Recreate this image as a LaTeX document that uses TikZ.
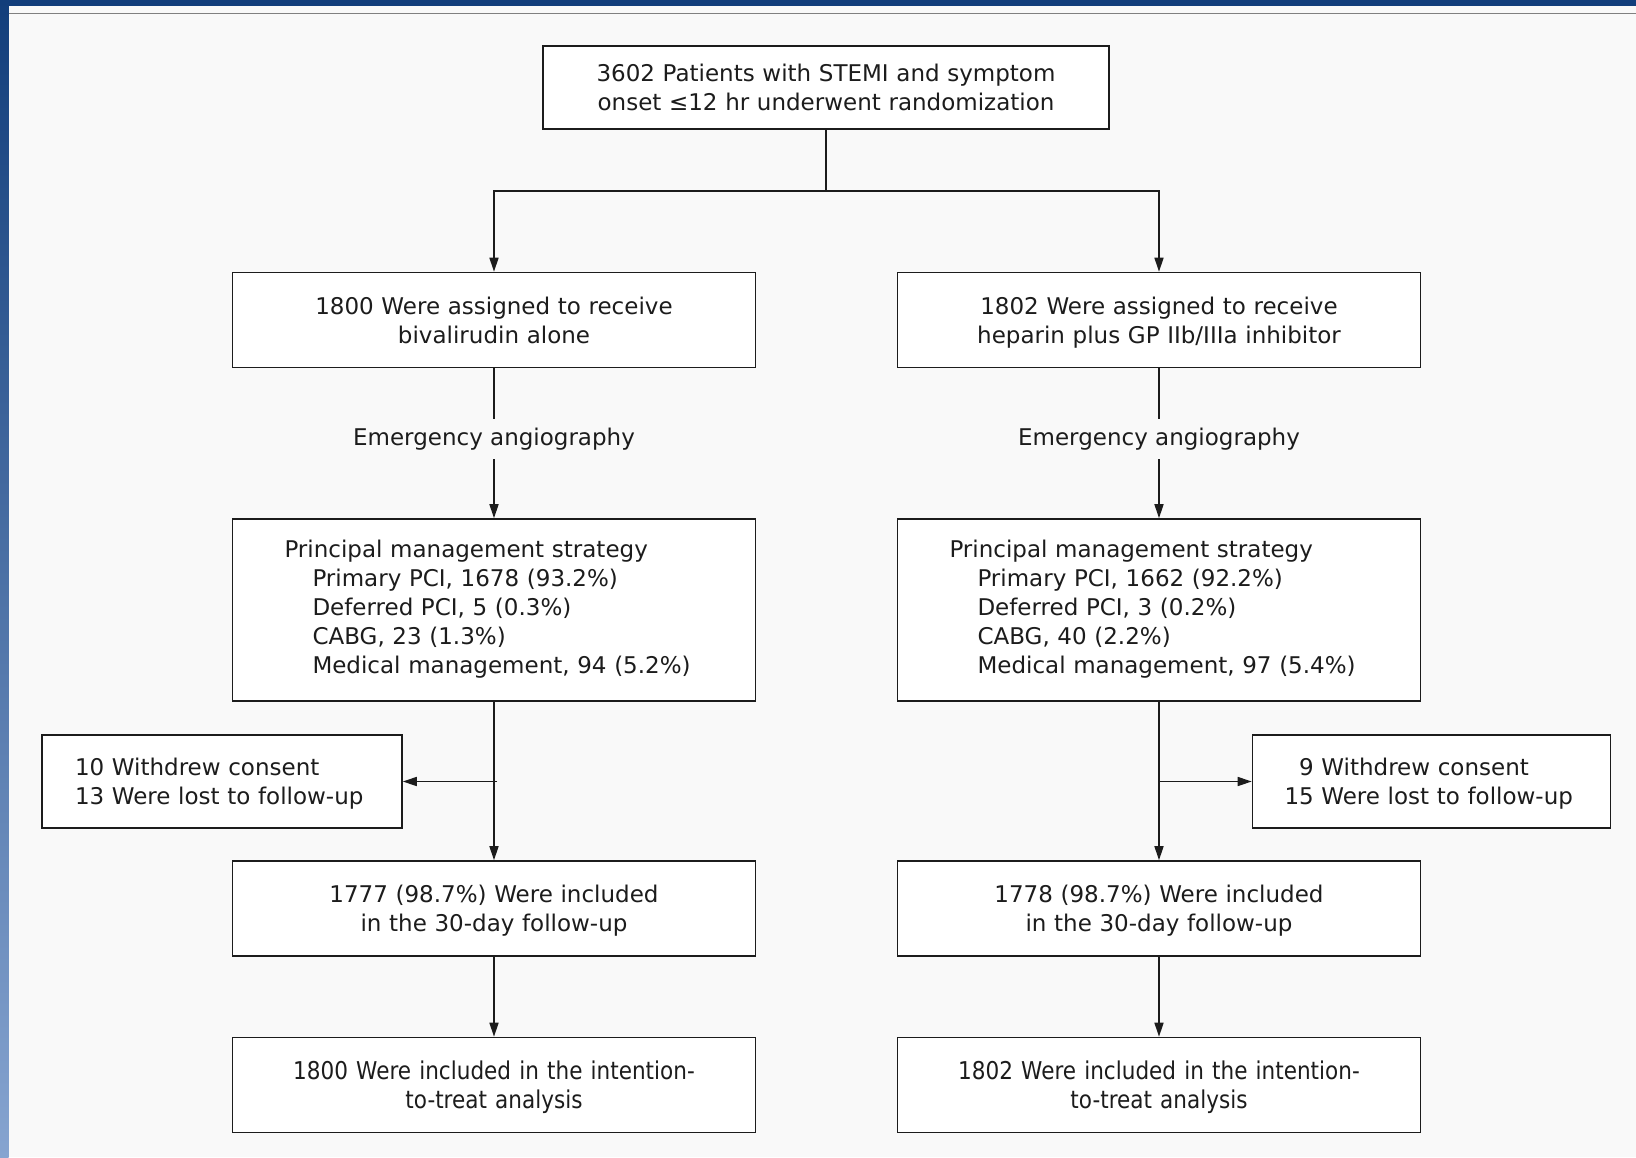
\documentclass[tikz,border=0pt]{standalone}
\usepackage{fontspec}
\setmainfont{DejaVu Sans}
\newfontfamily\narrowfont[FakeStretch=0.88]{DejaVu Sans}
\usetikzlibrary{arrows.meta}
\definecolor{pagebg}{HTML}{F9F9F9}
\definecolor{bandtop}{HTML}{123E7B}
\definecolor{bandbot}{HTML}{86A4D0}
\definecolor{rulegray}{HTML}{808080}
\definecolor{ink}{HTML}{1C1C1C}

\begin{document}
\begin{tikzpicture}[x=1pt, y=-1pt,
    basebox/.style={draw=ink, line width=1.6pt, fill=white, text=ink, inner sep=0pt,
      font=\fontsize{23}{29}\selectfont, execute at end node=\strut},
    box/.style={basebox, align=center, text width=500pt, minimum width=523pt, minimum height=95pt,
      execute at begin node=\rule{0pt}{26.5pt}},
    listbox/.style={basebox, align=left, text width=419pt, inner xsep=52pt, minimum height=182pt,
      execute at begin node=\strut},
    sidebox/.style={basebox, align=left, text width=294pt, inner xsep=33pt, minimum width=360pt,
      minimum height=93pt, execute at begin node=\rule{0pt}{25pt}},
    endbox/.style={box, font=\narrowfont\fontsize{24.5}{29}\selectfont},
    stagelabel/.style={text=ink, inner xsep=4pt, inner ysep=9pt, font=\fontsize{23}{29}\selectfont},
    wire/.style={draw=ink, line width=1.6pt},
    arr/.style={wire, -{Triangle[length=14pt,width=9pt]}}]
  \useasboundingbox (0,0) rectangle (1636,1157);
  \fill[pagebg] (0,0) rectangle (1636,1157);
  \fill[bandtop] (0,0) rectangle (1636,6);
  \shade[top color=bandtop, bottom color=bandbot] (0,0) rectangle (8.5,1157);
  \draw[rulegray, line width=1.5pt] (8.5,13.5) -- (1636,13.5);

  \node[box, minimum width=566pt, minimum height=83pt] (top) at (826,87.5)
    {3602 Patients with STEMI and symptom\\onset ≤12 hr underwent randomization};

  \node[box] (L1) at (494,320) {1800 Were assigned to receive\\bivalirudin alone};
  \node[box] (R1) at (1159,320) {1802 Were assigned to receive\\heparin plus GP IIb/IIIa inhibitor};

  \node[stagelabel] (eaL) at (494,439) {Emergency angiography};
  \node[stagelabel] (eaR) at (1159,439) {Emergency angiography};

  \node[listbox] (L2) at (494,610) {Principal management strategy\\
    \hspace*{28pt}Primary PCI, 1678 (93.2\%)\\
    \hspace*{28pt}Deferred PCI, 5 (0.3\%)\\
    \hspace*{28pt}CABG, 23 (1.3\%)\\
    \hspace*{28pt}Medical management, 94 (5.2\%)};
  \node[listbox] (R2) at (1159,610) {Principal management strategy\\
    \hspace*{28pt}Primary PCI, 1662 (92.2\%)\\
    \hspace*{28pt}Deferred PCI, 3 (0.2\%)\\
    \hspace*{28pt}CABG, 40 (2.2\%)\\
    \hspace*{28pt}Medical management, 97 (5.4\%)};

  \node[sidebox] (sideL) at (222,781.5) {10 Withdrew consent\\13 Were lost to follow-up};
  \node[sidebox, minimum width=357pt, inner xsep=32pt] (sideR) at (1431.5,781.5)
    {\phantom{1}9 Withdrew consent\\15 Were lost to follow-up};

  \node[box] (L3) at (494,908.5) {1777 (98.7\%) Were included\\in the 30-day follow-up};
  \node[box] (R3) at (1159,908.5) {1778 (98.7\%) Were included\\in the 30-day follow-up};

  \node[endbox] (L4) at (494,1085) {1800 Were included in the intention-\\to-treat analysis};
  \node[endbox] (R4) at (1159,1085) {1802 Were included in the intention-\\to-treat analysis};

  \coordinate (split) at (826,191);
  \draw[wire] (top) -- (split);
  \draw[arr] (split) -| (L1);
  \draw[arr] (split) -| (R1);

  \foreach \c in {L,R} {
    \draw[wire] (\c1) -- (ea\c);
    \draw[arr] (ea\c) -- (\c2);
    \draw[arr] (\c2) -- (\c3);
    \draw[arr] (\c3) -- (\c4);
  }

  \coordinate (tapL) at (497,781.5);
  \coordinate (tapR) at (1159,781.5);
  \draw[arr] (tapL) -- (sideL);
  \draw[arr] (tapR) -- (sideR);
\end{tikzpicture}
\end{document}
